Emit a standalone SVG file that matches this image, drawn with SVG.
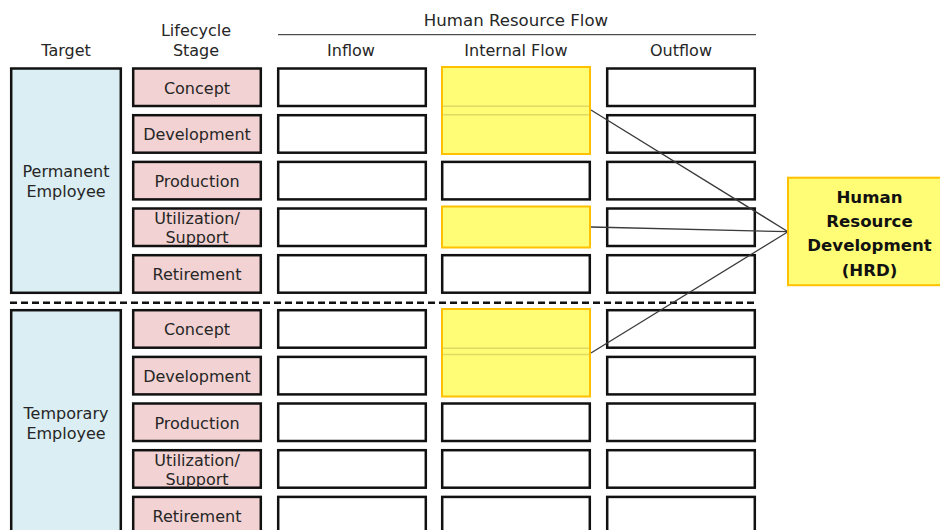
<svg xmlns="http://www.w3.org/2000/svg" width="940" height="530" viewBox="0 0 940 530">
<style>
text{font-family:"DejaVu Sans","Liberation Sans",sans-serif;font-size:16px;fill:#262626;text-anchor:middle}
.tg{fill:#DAEEF3;stroke:#111;stroke-width:2.5}
.st{fill:#F2D2D2;stroke:#111;stroke-width:2.5}
.cell{fill:#fff;stroke:#111;stroke-width:2.5}
.hl{fill:#FFFC75;stroke:#FFC000;stroke-width:2}
.seam{stroke:#C9C65A;stroke-width:1.5;opacity:0.6}
.con{stroke:#3a3a3a;stroke-width:1.3;fill:none}
.hrd{font-weight:bold;fill:#111;font-size:16.6px}
</style>
<g id="headers">
<text x="66" y="55.5">Target</text>
<text x="196" y="35.5">Lifecycle</text>
<text x="196" y="55.5">Stage</text>
<text x="516" y="26" style="font-size:16.6px">Human Resource Flow</text>
<line x1="278" y1="34.7" x2="756" y2="34.7" stroke="#222" stroke-width="1"/>
<text x="351" y="55.5">Inflow</text>
<text x="516" y="55.5">Internal Flow</text>
<text x="681" y="55.5">Outflow</text>
</g>
<g id="target-permanent">
<rect class="tg" x="11.2" y="68.5" width="109.6" height="224.3"/>
<text x="66" y="177">Permanent</text>
<text x="66" y="197">Employee</text>
</g>
<g id="target-temporary">
<rect class="tg" x="11.2" y="310.2" width="109.6" height="240"/>
<text x="66" y="419">Temporary</text>
<text x="66" y="439">Employee</text>
</g>
<g id="separator">
<line x1="10" y1="302.7" x2="756" y2="302.7" stroke="#111" stroke-width="2.5" stroke-dasharray="7 4"/>
</g>
<g id="stage-p-concept"><rect class="st" x="133.2" y="68.5" width="127.6" height="37.5"/><text x="197" y="93.5">Concept</text></g>
<g id="stage-p-development"><rect class="st" x="133.2" y="115.2" width="127.6" height="37.5"/><text x="197" y="140.2">Development</text></g>
<g id="stage-p-production"><rect class="st" x="133.2" y="161.9" width="127.6" height="37.5"/><text x="197" y="186.9">Production</text></g>
<g id="stage-p-utilization"><rect class="st" x="133.2" y="208.5" width="127.6" height="37.5"/><text x="197" y="224">Utilization/</text><text x="197" y="243">Support</text></g>
<g id="stage-p-retirement"><rect class="st" x="133.2" y="255.2" width="127.6" height="37.5"/><text x="197" y="280.2">Retirement</text></g>
<g id="stage-t-concept"><rect class="st" x="133.2" y="310.2" width="127.6" height="37.5"/><text x="197" y="335.2">Concept</text></g>
<g id="stage-t-development"><rect class="st" x="133.2" y="356.9" width="127.6" height="37.5"/><text x="197" y="381.9">Development</text></g>
<g id="stage-t-production"><rect class="st" x="133.2" y="403.5" width="127.6" height="37.5"/><text x="197" y="428.5">Production</text></g>
<g id="stage-t-utilization"><rect class="st" x="133.2" y="450.2" width="127.6" height="37.5"/><text x="197" y="466">Utilization/</text><text x="197" y="485">Support</text></g>
<g id="stage-t-retirement"><rect class="st" x="133.2" y="496.9" width="127.6" height="37.5"/><text x="197" y="521.9">Retirement</text></g>
<g id="inflow-cells">
<rect class="cell" x="278.2" y="68.5" width="147.6" height="37.5"/>
<rect class="cell" x="278.2" y="115.2" width="147.6" height="37.5"/>
<rect class="cell" x="278.2" y="161.9" width="147.6" height="37.5"/>
<rect class="cell" x="278.2" y="208.5" width="147.6" height="37.5"/>
<rect class="cell" x="278.2" y="255.2" width="147.6" height="37.5"/>
<rect class="cell" x="278.2" y="310.2" width="147.6" height="37.5"/>
<rect class="cell" x="278.2" y="356.9" width="147.6" height="37.5"/>
<rect class="cell" x="278.2" y="403.5" width="147.6" height="37.5"/>
<rect class="cell" x="278.2" y="450.2" width="147.6" height="37.5"/>
<rect class="cell" x="278.2" y="496.9" width="147.6" height="37.5"/>
</g>
<g id="internal-cells">
<rect class="cell" x="442.2" y="161.9" width="147.6" height="37.5"/>
<rect class="cell" x="442.2" y="255.2" width="147.6" height="37.5"/>
<rect class="cell" x="442.2" y="403.5" width="147.6" height="37.5"/>
<rect class="cell" x="442.2" y="450.2" width="147.6" height="37.5"/>
<rect class="cell" x="442.2" y="496.9" width="147.6" height="37.5"/>
</g>
<g id="outflow-cells">
<rect class="cell" x="607.2" y="68.5" width="147.6" height="37.5"/>
<rect class="cell" x="607.2" y="115.2" width="147.6" height="37.5"/>
<rect class="cell" x="607.2" y="161.9" width="147.6" height="37.5"/>
<rect class="cell" x="607.2" y="208.5" width="147.6" height="37.5"/>
<rect class="cell" x="607.2" y="255.2" width="147.6" height="37.5"/>
<rect class="cell" x="607.2" y="310.2" width="147.6" height="37.5"/>
<rect class="cell" x="607.2" y="356.9" width="147.6" height="37.5"/>
<rect class="cell" x="607.2" y="403.5" width="147.6" height="37.5"/>
<rect class="cell" x="607.2" y="450.2" width="147.6" height="37.5"/>
<rect class="cell" x="607.2" y="496.9" width="147.6" height="37.5"/>
</g>
<g id="hl-p-concept-development">
<rect class="hl" x="442" y="67" width="148" height="87"/>
<line class="seam" x1="443" y1="106.3" x2="589" y2="106.3"/>
<line class="seam" x1="443" y1="114.8" x2="589" y2="114.8"/>
</g>
<g id="hl-p-utilization">
<rect class="hl" x="442" y="206.5" width="148" height="41"/>
</g>
<g id="hl-t-concept-development">
<rect class="hl" x="442" y="309" width="148" height="87.5"/>
<line class="seam" x1="443" y1="348.3" x2="589" y2="348.3"/>
<line class="seam" x1="443" y1="354.5" x2="589" y2="354.5"/>
</g>
<g id="connectors">
<line class="con" x1="591" y1="110" x2="788" y2="231.7"/>
<line class="con" x1="591" y1="227" x2="788" y2="231.7"/>
<line class="con" x1="591" y1="353" x2="788" y2="231.7"/>
</g>
<g id="hrd">
<rect class="hl" x="788" y="177.7" width="164" height="107.5"/>
<text class="hrd" x="869.5" y="202.7">Human</text>
<text class="hrd" x="869.5" y="226.8">Resource</text>
<text class="hrd" x="869.5" y="251">Development</text>
<text class="hrd" x="869.5" y="276">(HRD)</text>
</g>
</svg>
